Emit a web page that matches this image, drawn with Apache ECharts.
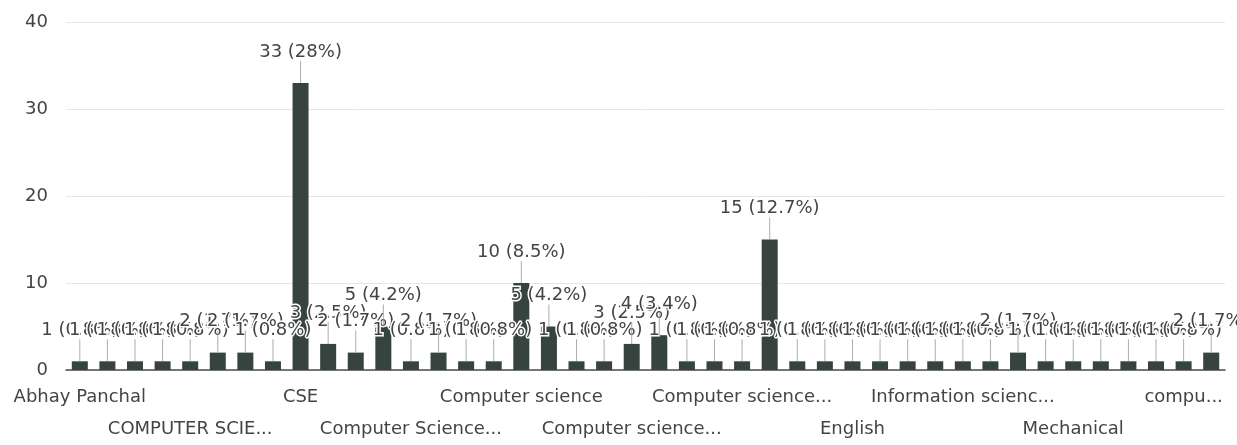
<!DOCTYPE html>
<html>
<head>
<meta charset="utf-8">
<script src="https://cdn.jsdelivr.net/npm/echarts@6/dist/echarts.min.js"></script>
<style>
html,body{margin:0;padding:0;background:#fff;}
#chart{width:1237px;height:445px;}
</style>
</head>
<body>
<div id="chart"></div>
<script>
const categories = [
  "Abhay Panchal","B.Tech","BCA","BE","COMPUTER SCIENCE",
  "COMPUTER SCIENCE AND ENGINEERING","CS","CS&E","CSE","Civil Engineering",
  "Computer Engineering","Computer Science","Computer Science and Engineering","Computer Science engineering","Computer applications",
  "Computer engineering","Computer science","Computer science & engineering","Computer science (AI)","Computer science and business systems",
  "Computer science and design","Computer science and engg","Computer science and engineering","Computer science and engineering (AI&ML)","Computer science and technology",
  "Computer science engineering","Data Science","Electronics","English","IT",
  "Information Technology","Information Technology (IT)","Information science and engineering","MBA","MCA",
  "ME","Mechanical","Mechanical Engineering","Physics","aiml",
  "computer science","cse"
];
const counts = [
  1,1,1,1,1,
  2,2,1,33,3,
  2,5,1,2,1,
  1,10,5,1,1,
  3,4,1,1,1,
  15,1,1,1,1,
  1,1,1,1,2,
  1,1,1,1,1,
  1,2
];
// visible (truncated) category tick labels, every 4th category
const tickLabels = {
  0:"Abhay Panchal", 4:"COMPUTER SCIE...", 8:"CSE", 12:"Computer Science...",
  16:"Computer science", 20:"Computer science...", 24:"Computer science...",
  28:"English", 32:"Information scienc...", 36:"Mechanical", 40:"compu..."
};
const yTicks = [0, 10, 20, 30, 40];

const total = counts.reduce((a,b)=>a+b,0);
function pct(v){ return String(Math.round(v/total*1000)/10); }

const chart = echarts.init(document.getElementById('chart'));
const FONT = '"DejaVu Sans", sans-serif';
chart.setOption({
  animation:false,
  grid:{left:66,right:12,top:22,bottom:72},
  xAxis:{
    type:'category', data:categories,
    axisTick:{show:false},
    axisLine:{lineStyle:{color:'#4a4f4c',width:1.5}},
    axisLabel:{
      interval:0, margin:11, lineHeight:32,
      fontFamily:FONT, fontSize:18, color:'#444',
      formatter:function(v,i){
        const t = tickLabels[i];
        if(t===undefined) return '';
        return (i/4)%2===1 ? '\n'+t : t;
      }
    }
  },
  yAxis:{
    type:'value', min:yTicks[0], max:yTicks[yTicks.length-1], interval:10,
    axisLine:{show:false}, axisTick:{show:false},
    axisLabel:{margin:18, fontFamily:FONT, fontSize:18, color:'#444'},
    splitLine:{lineStyle:{color:'#e6e6e6'}}
  },
  series:[
    {
      type:'bar', data:counts, barWidth:'58%',
      itemStyle:{color:'#37433f'},
      label:{
        show:true, position:'top', distance:22,
        fontFamily:FONT, fontSize:18, color:'#444',
        textBorderColor:'#fff', textBorderWidth:3,
        formatter:function(p){ return p.value+' ('+pct(p.value)+'%)'; }
      },
      z:2
    },
    {
      type:'scatter', data:counts,
      symbol:'rect', symbolSize:[1,22], symbolOffset:[0,-11],
      itemStyle:{color:'#999'}, silent:true, z:3
    }
  ]
});
</script>
</body>
</html>
